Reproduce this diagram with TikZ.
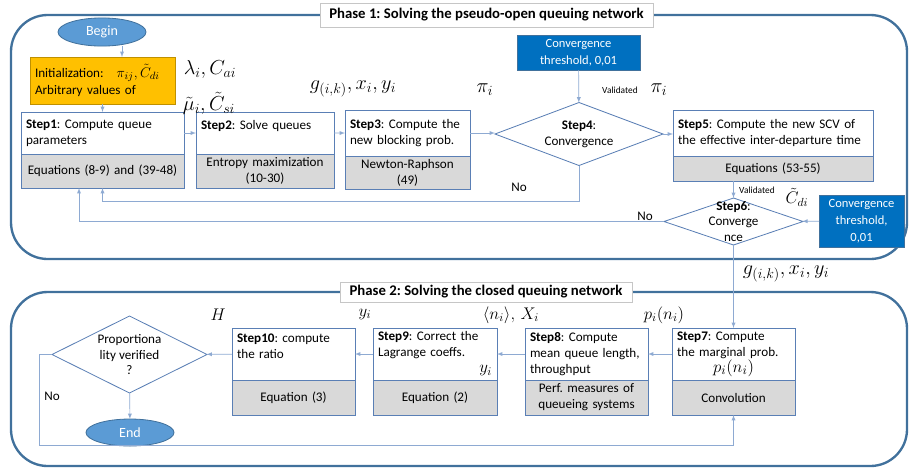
\documentclass[tikz,border=0pt]{standalone}
\usepackage{fontspec}
\setmainfont{Carlito}
\usetikzlibrary{shapes.geometric,arrows,positioning,calc}
\definecolor{frameblue}{HTML}{41719C}
\definecolor{boxblue}{HTML}{5A7FB5}
\definecolor{linkblue}{HTML}{8EAAD2}
\definecolor{ovalblue}{HTML}{5B9BD5}
\definecolor{thrblue}{HTML}{0070C0}
\definecolor{initorange}{HTML}{FFC000}
\definecolor{eqgray}{HTML}{D9D9D9}
\frenchspacing

\begin{document}
\begin{tikzpicture}[
  x=0.03cm, y=-0.03cm,
  every node/.style = {outer sep=0pt},
  stepbox/.style = {draw=boxblue, line width=0.7pt, fill=white,
                    inner xsep=0.15cm, inner ysep=1pt, align=left,
                    font=\fontsize{11.2}{13.6}\selectfont},
  eqbox/.style   = {stepbox, fill=eqgray, align=center},
  initbox/.style = {stepbox, draw=initorange!75!black, fill=initorange},
  dia/.style     = {diamond, draw=boxblue, line width=0.7pt, fill=white,
                    inner sep=0pt},
  diatext/.style = {align=center, inner sep=0pt, font=\fontsize{11.2}{13.6}\selectfont},
  oval/.style    = {ellipse, draw=frameblue, line width=0.7pt, fill=ovalblue,
                    text=white, font=\fontsize{12}{14}\selectfont},
  thr/.style     = {draw=frameblue, fill=thrblue, text=white, align=center,
                    font=\fontsize{10.7}{14.5}\selectfont},
  phase/.style   = {draw=gray!45, fill=white, inner sep=0pt,
                    font=\fontsize{12.6}{14}\selectfont\bfseries},
  frame/.style   = {draw=frameblue, line width=2pt, rounded corners=1.1cm},
  arr/.style     = {->, >=latex, draw=linkblue, line width=0.6pt},
  mbig/.style    = {inner sep=0pt, font=\fontsize{18}{20}\selectfont},
  mmid/.style    = {inner sep=0pt, font=\fontsize{14}{16}\selectfont},
  msmall/.style  = {inner sep=0pt, font=\fontsize{13.6}{15}\selectfont},
  vlabel/.style  = {inner sep=0pt, font=\fontsize{8}{9}\selectfont},
  nolabel/.style = {inner sep=0pt, font=\fontsize{11.2}{12}\selectfont},
]
\useasboundingbox (0,0) rectangle (909,467);

% phase frames
\draw[frame] (11,15) rectangle (907,259);
\draw[frame] (11,292) rectangle (907,466);
\node[phase, minimum width=9.99cm, minimum height=0.72cm] (ph1) at (486.5,15)
     {Phase 1: Solving the pseudo-open queuing network};
\node[phase, minimum width=8.76cm, minimum height=0.6cm] (ph2) at (486,292)
     {Phase 2: Solving the closed queuing network};

% phase 1
\node[oval, minimum width=2.64cm, minimum height=0.72cm] (begin) at (102,32) {Begin};
\node[initbox, anchor=north west, text width=4.05cm, minimum height=1.41cm] (init) at (30,57)
     {Initialization:\quad{\fontsize{13}{13.6}\selectfont$\pi_{ij},\tilde{C}_{di}$}\\[1pt]Arbitrary values of};

\node[stepbox, anchor=north west, text width=4.59cm, minimum height=1.26cm] (s1) at (21,112)
     {\textbf{Step1}: Compute queue\\parameters};
\node[eqbox, text width=4.59cm, minimum height=1.02cm, below=0pt of s1] (s1e)
     {Equations (8-9) and (39-48)};
\node[stepbox, anchor=north west, text width=3.84cm, minimum height=1.26cm] (s2) at (196,112)
     {\textbf{Step2}: Solve queues\\\mbox{}};
\node[eqbox, text width=3.84cm, minimum height=1.02cm, below=0pt of s2] (s2e)
     {Entropy maximization\\(10-30)};
\node[stepbox, anchor=north west, text width=3.45cm, minimum height=1.38cm] (s3) at (345,110)
     {\textbf{Step3}: Compute the\\new blocking prob.};
\node[eqbox, text width=3.45cm, minimum height=0.99cm, below=0pt of s3] (s3e)
     {Newton-Raphson\\(49)};

\node[thr, minimum width=3.69cm, minimum height=1.05cm] (thr1) at (578.5,52.5)
     {Convergence\\threshold, 0,01};
\node[dia, minimum width=5.04cm, minimum height=1.89cm] (d4) at (579,134) {};
\node[diatext] (d4t) at (d4.center) {\textbf{Step4}:\\Convergence};

\node[stepbox, anchor=north west, text width=5.70cm, minimum height=1.38cm] (s5) at (673,110)
     {\textbf{Step5}: Compute the new SCV of\\the effective inter-departure time};
\node[eqbox, text width=5.70cm, minimum height=0.75cm, below=0pt of s5] (s5e)
     {Equations (53-55)};

\node[dia, minimum width=4.17cm, minimum height=1.41cm] (d6) at (733.5,221.5) {};
\node[diatext] (d6t) at (d6.center) {\textbf{Step6}:\\Converge\\nce};
\node[thr, minimum width=2.55cm, minimum height=1.5cm] (thr2) at (861.5,221)
     {Convergence\\threshold,\\0,01};

\node[mbig] (lam) at (210,69) {$\lambda_i, C_{ai}$};
\node[mbig] (mu) at (209,103) {$\tilde{\mu}_i, \tilde{C}_{si}$};
\node[mbig] (g1) at (353,89) {$g_{(i,k)}, x_i, y_i$};
\node[mbig] (pi1) at (485,90) {$\pi_i$};
\node[vlabel] (val1) at (620,90) {Validated};
\node[mbig] (pi2) at (659,90) {$\pi_i$};
\node[nolabel] (no1) at (519,187) {No};
\node[vlabel] (val2) at (757,190) {Validated};
\node[mmid] (cdi) at (797,197) {$\tilde{C}_{di}$};
\node[nolabel] (no2) at (645,216) {No};
\node[mbig] (g2) at (786,274) {$g_{(i,k)}, x_i, y_i$};

\draw[arr] ([xshift=0.6cm]begin.south) -- ([xshift=0.6cm]begin.south |- init.north);
\draw[arr] (init) -- (s1);
\draw[arr] (s1) -- (s2);
\draw[arr] (s2) -- (s3);
\draw[arr] (s3.east) -- (s3.east -| d4.west);
\draw[arr] (thr1) -- (d4);
\draw[arr] (d4.east) -- (d4.east -| s5.west);
\draw[arr] (d4.south) -- ++(0,36) -| (s1e.south);
\draw[arr] (s5e.south -| d6.north) -- (d6.north);
\draw[arr] (thr2) -- (d6);
\draw[arr] (d6.west) -| ([xshift=-0.705cm]s1e.south);

% phase 2
\node[stepbox, anchor=north west, text width=3.39cm, minimum height=1.56cm] (s7) at (672,328)
     {\textbf{Step7}: Compute\\the marginal prob.\\
      \hspace*{\fill}{\fontsize{15}{15}\selectfont$p_i(n_i)$}\hspace*{\fill}\mbox{}};
\node[eqbox, text width=3.39cm, minimum height=1.05cm, below=0pt of s7] (s7e)
     {Convolution};
\node[stepbox, anchor=north west, text width=3.39cm, minimum height=1.56cm] (s8) at (525,328)
     {\textbf{Step8}: Compute\\mean queue length,\\throughput};
\node[eqbox, text width=3.39cm, minimum height=1.05cm, below=0pt of s8] (s8e)
     {Perf. measures of\\queueing systems};
\node[stepbox, anchor=north west, text width=3.42cm, minimum height=1.56cm] (s9) at (373,328)
     {\textbf{Step9}: Correct the\\Lagrange coeffs.\\
      \hspace*{\fill}{\fontsize{14}{14}\selectfont$y_i$}};
\node[eqbox, text width=3.42cm, minimum height=1.05cm, below=0pt of s9] (s9e)
     {Equation (2)};
\node[stepbox, anchor=north west, text width=3.39cm, minimum height=1.56cm] (s10) at (232,328)
     {\textbf{Step10}: compute\\the ratio\\\mbox{}};
\node[eqbox, text width=3.39cm, minimum height=1.05cm, below=0pt of s10] (s10e)
     {Equation (3)};

\node[dia, minimum width=4.65cm, minimum height=2.31cm] (dp) at (129.5,354.5) {};
\node[diatext] (dpt) at (dp.center) {Proportiona\\lity verified\\?};
\node[oval, minimum width=2.64cm, minimum height=0.81cm] (end) at (130,432.5) {End};

\node[msmall] (H) at (218,315) {$H$};
\node[mmid] (yi) at (365,314) {$y_i$};
\node[msmall] (nX) at (511,315) {$\langle n_i\rangle,\, X_i$};
\node[msmall] (pn) at (664,315) {$p_i(n_i)$};
\node[nolabel] (no3) at (52,396) {No};

\draw[arr] (d6) -- (s7);
\draw[arr] (s7) -- (s8);
\draw[arr] (s8) -- (s9);
\draw[arr] (s9) -- (s10);
\draw[arr] (s10) -- (dp);
\draw[arr] (dp) -- (end);
\draw[arr] (dp.west) -- ++(-13,0) -- ++(0,91) -| (s7e.south);
\end{tikzpicture}
\end{document}
